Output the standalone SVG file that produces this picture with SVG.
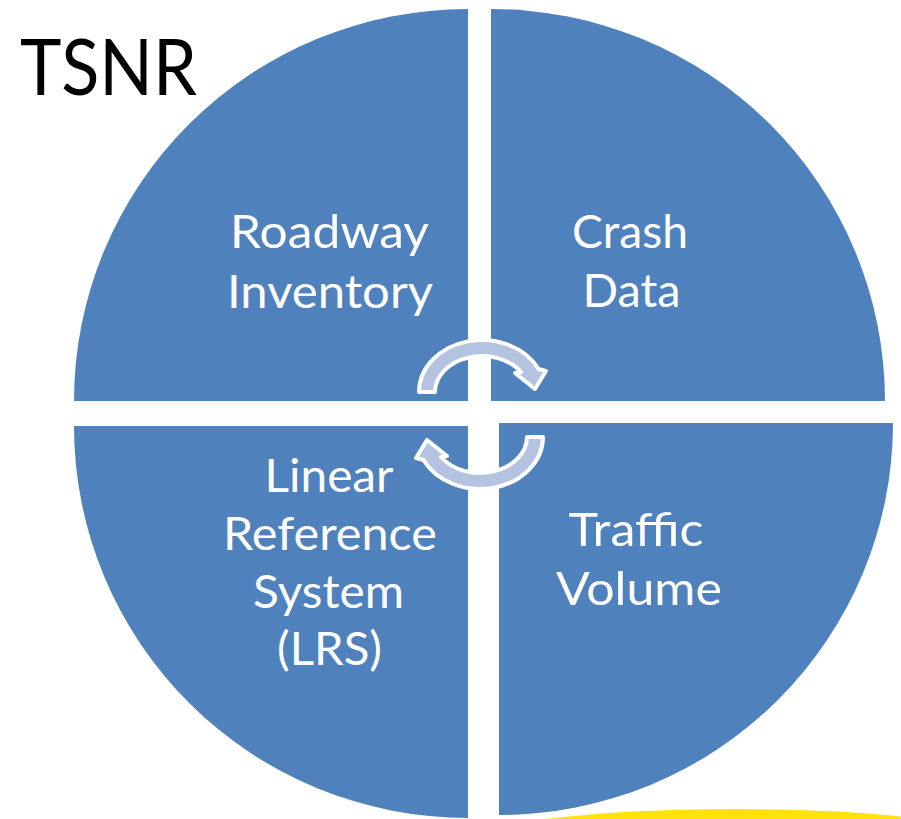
<svg xmlns="http://www.w3.org/2000/svg" xmlns:xlink="http://www.w3.org/1999/xlink" width="901" height="819" viewBox="0 0 901 819">
  <style>
    .quad { fill: #4F81BD; }
    .lbl { font-family: "Lato", "Liberation Sans", sans-serif; font-size: 47px; fill: #FFFFFF; text-anchor: middle; }
    .title { font-family: "Lato", "Liberation Sans", sans-serif; font-size: 77px; fill: #000000; }
    .cyc { fill: #B4C4E0; stroke: #FFFFFF; stroke-width: 4; stroke-linejoin: round; }
  </style>
  <defs>
    <path id="cycArrow" class="cyc" d="M 419 392 A 63 52 0 0 1 538.5 369 L 546 371 L 535 389 L 515 373 L 521 372 A 47 36 0 0 0 435 392 Z"/>
  </defs>
  <rect x="0" y="0" width="901" height="819" fill="#FFFFFF"/>
  <ellipse cx="735" cy="850" rx="290" ry="41" fill="#FFE20C"/>

  <g id="roadway-inventory">
    <path class="quad" d="M468,401 H74 A394,392 0 0 1 468,9 Z"/>
    <text class="lbl" x="329.5" y="248" textLength="199" lengthAdjust="spacingAndGlyphs">Roadway</text>
    <text class="lbl" x="330" y="308" textLength="206" lengthAdjust="spacingAndGlyphs">Inventory</text>
  </g>
  <g id="crash-data">
    <path class="quad" d="M491,401 V9 A394,392 0 0 1 885,401 Z"/>
    <text class="lbl" x="630" y="248" textLength="116" lengthAdjust="spacingAndGlyphs">Crash</text>
    <text class="lbl" x="631.5" y="307" textLength="98" lengthAdjust="spacingAndGlyphs">Data</text>
  </g>
  <g id="linear-reference-system">
    <path class="quad" d="M468,426 V818 A394,392 0 0 1 74,426 Z"/>
    <text class="lbl" x="329" y="492" textLength="129" lengthAdjust="spacingAndGlyphs">Linear</text>
    <text class="lbl" x="330" y="550" textLength="214" lengthAdjust="spacingAndGlyphs">Reference</text>
    <text class="lbl" x="328.5" y="608" textLength="151" lengthAdjust="spacingAndGlyphs">System</text>
    <text class="lbl" x="329.5" y="665" textLength="105" lengthAdjust="spacingAndGlyphs">(LRS)</text>
  </g>
  <g id="traffic-volume">
    <path class="quad" d="M499,423 H893 A394,392 0 0 1 499,815 Z"/>
    <text class="lbl" x="636" y="546" textLength="135" lengthAdjust="spacingAndGlyphs">Traffic</text>
    <text class="lbl" x="639" y="605" textLength="166" lengthAdjust="spacingAndGlyphs">Volume</text>
  </g>

  <g id="connectors">
    <use xlink:href="#cycArrow" href="#cycArrow"/>
    <use xlink:href="#cycArrow" href="#cycArrow" transform="rotate(180 481 414.5)"/>
  </g>

  <g id="title">
    <text class="title" x="20" y="95" textLength="177" lengthAdjust="spacingAndGlyphs">TSNR</text>
  </g>
</svg>
